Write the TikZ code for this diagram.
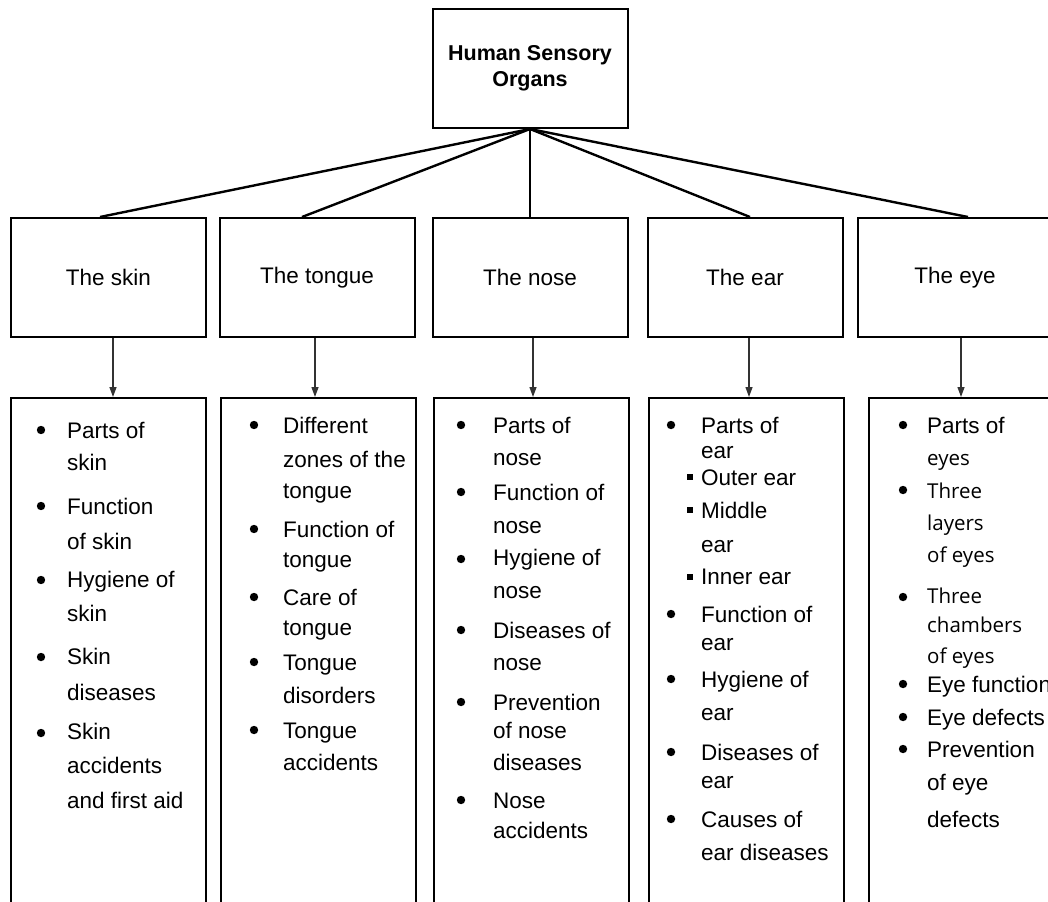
\documentclass[tikz,border=0pt]{standalone}
\usepackage{fontspec}
\setmainfont{Liberation Sans}
\newfontfamily\opensans{Open Sans}
\usetikzlibrary{arrows.meta}

\tikzset{
  box/.style={draw,line width=2pt,minimum width=195pt,minimum height=119pt,inner sep=0pt,
    font=\fontsize{22.5}{27}\selectfont},
  list/.style={draw,line width=2pt,anchor=north west,minimum width=195pt,minimum height=520pt,inner sep=0pt},
  item/.style={anchor=base west,inner sep=0pt,font=\fontsize{22.5}{27}\selectfont},
  itemalt/.style={anchor=base west,inner sep=0pt,font=\opensans\fontsize{20.5}{25}\selectfont},
  link/.style={line width=2.4pt},
  arr/.style={draw=black!80,line width=1.3pt,-{Triangle[length=10pt,width=7pt]}}
}

\begin{document}
\begin{tikzpicture}[x=1pt,y=-1pt]
  \useasboundingbox (0,0) rectangle (1048,901);
  \clip (0,0) rectangle (1048,901);

  \node[box,align=center,font=\bfseries\fontsize{21.5}{26}\selectfont] (hso) at (530,68.5) {Human Sensory\\Organs};

  \node[box] (skin) at (108.5,277.5) {The skin};
  \node[box] (tongue) at (317,277.5) {The tongue};
  \node[box] (nose) at (530,277.5) {The nose};
  \node[box] (ear) at (745,277.5) {The ear};
  \node[box] (eye) at (955,277.5) {The eye};

  \node[list] (list-skin) at (10,397) {};
  \node[list] (list-tongue) at (220,397) {};
  \node[list] (list-nose) at (433,397) {};
  \node[list] (list-ear) at (648,397) {};
  \node[list] (list-eye) at (868,397) {};

  \draw[link] (hso.south) -- ([xshift=-8.5pt]skin.north);
  \draw[link] (hso.south) -- ([xshift=-15pt]tongue.north);
  \draw[link] (hso.south) -- (nose.north);
  \draw[link] (hso.south) -- ([xshift=5pt]ear.north);
  \draw[link] (hso.south) -- ([xshift=13pt]eye.north);

  \foreach \n/\dx in {skin/4.5,tongue/-2,nose/3,ear/4,eye/6}
    \draw[arr] ([xshift=\dx pt]\n.south) coordinate (\n-a) -- (\n-a |- list-\n.north);

  % skin
  \foreach \y in {430,506,580,657,733} \fill (41,\y) circle[radius=4.2pt];
  \foreach \t/\y [count=\i] in {Parts of/438,skin/470,Function/514,of skin/549,Hygiene of/587,
      skin/621,Skin/664,diseases/700,Skin/739,accidents/773,and first aid/808}
    \node[item] (skin-t\i) at (67,\y) {\t};

  % tongue
  \foreach \y in {425,529,597,662,730} \fill (254,\y) circle[radius=4.2pt];
  \foreach \t/\y [count=\i] in {Different/433,zones of the/467,tongue/498,Function of/537,
      tongue/567,Care of/605,tongue/635,Tongue/670,disorders/703,Tongue/738,accidents/770}
    \node[item] (tongue-t\i) at (283,\y) {\t};

  % nose
  \foreach \y in {425,492,559,630,702,800} \fill (461,\y) circle[radius=4.2pt];
  \foreach \t/\y [count=\i] in {Parts of/433,nose/465,Function of/500,nose/533,Hygiene of/565,
      nose/598,Diseases of/638,nose/670,Prevention/710,of nose/738,diseases/770,Nose/808,accidents/838}
    \node[item] (nose-t\i) at (493,\y) {\t};

  % ear
  \foreach \y in {425,614,679,752,819} \fill (671,\y) circle[radius=4.2pt];
  \foreach \y in {477,510,577} \fill (687,\y) ++(0,-2.8) rectangle ++(5.6,5.6);
  \foreach \t/\y [count=\i] in {Parts of/433,ear/458,Outer ear/485,Middle/518,ear/552,Inner ear/584,
      Function of/622,ear/650,Hygiene of/687,ear/720,Diseases of/760,ear/788,Causes of/827,ear diseases/860}
    \node[item] (ear-t\i) at (701,\y) {\t};

  % eye
  \foreach \y in {425,490,597,684,717,749} \fill (903,\y) circle[radius=4.2pt];
  \foreach \s/\t/\y [count=\i] in {item/Parts of/433,itemalt/eyes/465,itemalt/Three/498,
      itemalt/layers/530,itemalt/of eyes/562,itemalt/Three/603,itemalt/chambers/632,
      itemalt/of eyes/663,item/Eye function/692,item/Eye defects/725,item/Prevention/757,
      item/of eye/790,item/defects/827}
    \node[\s] (eye-t\i) at (927,\y) {\t};
\end{tikzpicture}
\end{document}
